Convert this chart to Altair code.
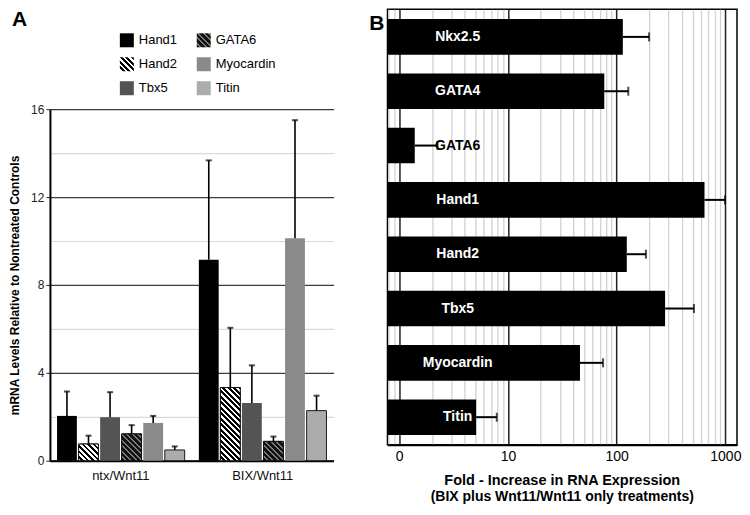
import altair as alt
import pandas as pd

# ---------------- data: panel A ----------------
GROUPS = ["ntx/Wnt11", "BIX/Wnt11"]
GENES_A = ["Hand1", "Hand2", "Tbx5", "GATA6", "Myocardin", "Titin"]
NTX_MEAN = [2.04, 0.76, 1.98, 1.22, 1.72, 0.49]
NTX_ERR = [3.15, 1.14, 3.12, 1.62, 2.04, 0.65]
BIX_MEAN = [9.15, 3.33, 2.63, 0.88, 10.13, 2.28]
BIX_ERR = [13.67, 6.05, 4.34, 1.10, 15.5, 2.96]
A_DOMAIN = [0, 16]
A_TICKS = list(range(0, 17))

# ---------------- data: panel B ----------------
GENES_B = ["Nkx2.5", "GATA4", "GATA6", "Hand1", "Hand2", "Tbx5", "Myocardin", "Titin"]
FOLD = [114, 77, 1.39, 643, 124, 279, 46, 5.1]
FOLD_ERR = [199, 128, 2.25, 993, 186, 514, 75, 7.9]
B_MAJOR = [1, 10, 100, 1000]
B_MAJOR_LABELS = ["0", "10", "100", "1000"]
B_TICKS = [0.8, 0.9] + [m * 10 ** e for e in range(0, 3) for m in range(1, 10)] + [1000]
B_DOMAIN = [0.78, 1280]
LABEL_POS = 3.45

# ---------------- layout / style ----------------
FONT = "Liberation Sans"
A_W, A_H, A_TOP = 284, 452, 100          # plot of panel A occupies [A_TOP, A_H]
B_W, B_H = 350, 436
X_PAD_IN, X_PAD_OUT, OFF_PAD = 0.1, 0.05, 0.08

_step = A_W / (len(GROUPS) - X_PAD_IN + 2 * X_PAD_OUT)
_band = _step * (1 - X_PAD_IN)
BAR_W = _band / (len(GENES_A) - OFF_PAD) * (1 - OFF_PAD)
PX_PER_UNIT = (A_H - A_TOP) / (A_DOMAIN[1] - A_DOMAIN[0])

HATCH = {
    "Hand2": ("#ffffff", "#000000", 0.5),
    "GATA6": ("#111111", "#7a7a7a", 0.62),
}
PERIOD = 5.5


def stripes(w, h, c1, c2, frac, period=PERIOD):
    total = w + h
    k = total / (w * w + h * h)
    stops = []
    i = 0
    while i * period < total:
        a = i * period / total
        b = min((i + frac) * period / total, 1)
        c = min((i + 1) * period / total, 1)
        stops += [
            {"offset": round(a, 4), "color": c1},
            {"offset": round(b, 4), "color": c1},
            {"offset": round(b, 4), "color": c2},
            {"offset": round(c, 4), "color": c2},
        ]
        i += 1
    return {"gradient": "linear", "x1": 0, "y1": 1,
            "x2": round(k * w, 5), "y2": round(1 - k * h, 5), "stops": stops}


def js(v):
    if isinstance(v, dict):
        return "{" + ",".join(f"{k}:{js(x)}" for k, x in v.items()) + "}"
    if isinstance(v, list):
        return "[" + ",".join(js(x) for x in v) + "]"
    if isinstance(v, str):
        return "'" + v + "'"
    return repr(v)


SOLID = {"Hand1": "#000000", "Tbx5": "#545454", "Myocardin": "#8a8a8a", "Titin": "#acacac"}
LEG_ORDER = GENES_A
LEG_RANGE = []
for g in LEG_ORDER:
    if g in HATCH:
        LEG_RANGE.append({"expr": js(stripes(14, 14, *HATCH[g]))})
    else:
        LEG_RANGE.append(SOLID[g])

rows = []
for grp, means, errs in [(GROUPS[0], NTX_MEAN, NTX_ERR), (GROUPS[1], BIX_MEAN, BIX_ERR)]:
    for gene, m, e in zip(GENES_A, means, errs):
        rows.append({"group": grp, "gene": gene, "mean": m, "err": e})
dfA = pd.DataFrame(rows)

dfB = pd.DataFrame({"gene": GENES_B, "fold": FOLD, "err": FOLD_ERR})

# ---------------- panel A ----------------
xA = alt.X("group:N", sort=GROUPS,
           scale=alt.Scale(domain=GROUPS, paddingInner=X_PAD_IN, paddingOuter=X_PAD_OUT),
           axis=alt.Axis(title=None, labelAngle=0, ticks=False, domainColor="black",
                         domainWidth=2, labelFontSize=13, labelPadding=9,
                         labelColor="#111111", grid=False))
xoA = alt.XOffset("gene:N", sort=GENES_A,
                  scale=alt.Scale(domain=GENES_A, paddingInner=OFF_PAD, paddingOuter=0))
yA = alt.Y("mean:Q", scale=alt.Scale(domain=A_DOMAIN, nice=False, range=[A_H, A_TOP]),
           axis=alt.Axis(values=A_TICKS,
                         title="mRNA Levels Relative to Nontreated Controls",
                         titleFontSize=12, titleFontWeight="bold", titleColor="black",
                         titlePadding=9,
                         labelExpr="datum.value % 4 == 0 ? datum.label : ''",
                         labelOverlap=False, labelFontSize=12, labelColor="#222222",
                         labelPadding=2, tickSize=4,
                         tickColor={"condition": {"test": "datum.value % 4 == 0", "value": "#222222"},
                                    "value": "transparent"},
                         gridColor={"condition": {"test": "datum.value % 4 == 0", "value": "#3c3c3c"},
                                    "value": "#d9d9d9"},
                         gridWidth={"condition": {"test": "datum.value % 4 == 0", "value": 1.3},
                                    "value": 1.2},
                         domainColor="black", domainWidth=2))

baseA = alt.Chart(dfA)
barsA = baseA.mark_bar(stroke="#1a1a1a").encode(
    x=xA, xOffset=xoA, y=yA,
    color=alt.Color("gene:N", scale=alt.Scale(domain=LEG_ORDER, range=LEG_RANGE),
                    legend=alt.Legend(orient="none", legendX=70, legendY=24, columns=2,
                                      title=None, symbolType="square", symbolSize=196,
                                      symbolStrokeWidth=0, labelFontSize=13,
                                      labelColor="black", labelOffset=5,
                                      columnPadding=19, rowPadding=10, padding=0)),
    strokeWidth=alt.condition(
        "datum.gene == 'Hand2' || datum.gene == 'GATA6' || datum.gene == 'Titin'",
        alt.value(1), alt.value(0)),
)

overlays = []
for grp, means in [(GROUPS[0], NTX_MEAN), (GROUPS[1], BIX_MEAN)]:
    for gene in HATCH:
        val = means[GENES_A.index(gene)]
        grad = stripes(BAR_W, val * PX_PER_UNIT, *HATCH[gene])
        overlays.append(
            baseA.transform_filter(f"datum.group == '{grp}' && datum.gene == '{gene}'")
            .mark_bar(fill=grad, stroke="#111111", strokeWidth=1)
            .encode(x=xA, xOffset=xoA, y="mean:Q")
        )

errA = baseA.mark_rule(color="black", strokeWidth=1.6).encode(
    x=xA, xOffset=xoA, y="mean:Q", y2="err:Q")
capA = baseA.mark_tick(color="black", thickness=2, size=6, orient="horizontal").encode(
    x=xA, xOffset=xoA, y="err:Q")
letterA = alt.Chart(pd.DataFrame({"t": ["A"]})).mark_text(
    fontSize=21, fontWeight="bold", align="left", baseline="top", color="black").encode(
    text="t:N", x=alt.value(-38), y=alt.value(0))

panelA = alt.layer(barsA, *overlays, errA, capA, letterA).properties(width=A_W, height=A_H)

# ---------------- panel B ----------------
major_test = " || ".join(f"datum.value == {v}" for v in B_MAJOR)
label_expr = " : ".join(f"datum.value == {v} ? '{t}'" for v, t in zip(B_MAJOR, B_MAJOR_LABELS)) + " : ''"

xB = alt.X("fold:Q", scale=alt.Scale(type="log", domain=B_DOMAIN, nice=False),
           axis=alt.Axis(values=B_TICKS, labelExpr=label_expr, labelOverlap=False,
                         labelFlush=False, ticks=False, title=None,
                         gridColor={"condition": {"test": major_test, "value": "#222222"},
                                    "value": "#d2d2d2"},
                         gridWidth={"condition": {"test": major_test, "value": 1.5},
                                    "value": 1.3},
                         domainColor="black", domainWidth=2, labelFontSize=14,
                         labelPadding=5, labelColor="black"))
yB = alt.Y("gene:N", sort=GENES_B,
           scale=alt.Scale(domain=GENES_B, paddingInner=0.345, paddingOuter=0.18),
           axis=None)

baseB = alt.Chart(dfB)
barsB = baseB.transform_calculate(base=str(B_DOMAIN[0])).mark_bar(color="black").encode(
    y=yB, x=xB, x2="base:Q")
errB = baseB.mark_rule(color="black", strokeWidth=2).encode(y=yB, x="fold:Q", x2="err:Q")
capB = baseB.mark_tick(color="black", thickness=2, size=9, orient="vertical").encode(
    y=yB, x="err:Q")
textB = baseB.mark_text(fontWeight="bold", fontSize=14).encode(
    y=yB, x=alt.datum(LABEL_POS), text="gene:N",
    color=alt.condition(f"datum.fold > {LABEL_POS}", alt.value("white"), alt.value("black")))
letterB = alt.Chart(pd.DataFrame({"t": ["B"]})).mark_text(
    fontSize=21, fontWeight="bold", align="right", baseline="top", color="black").encode(
    text="t:N", x=alt.value(-3), y=alt.value(4))

panelB = alt.layer(barsB, errB, capB, textB, letterB).properties(
    width=B_W, height=B_H,
    view=alt.ViewBackground(stroke="black", strokeWidth=1.5),
    title=alt.TitleParams("Fold - Increase in RNA Expression",
                          subtitle="(BIX plus Wnt11/Wnt11 only treatments)",
                          orient="bottom", anchor="middle", frame="group",
                          fontSize=14.5, fontWeight="bold", color="black",
                          subtitleFontSize=14, subtitleFontWeight="bold",
                          subtitleColor="black", subtitleFont=FONT,
                          subtitlePadding=2, offset=10))

chart = alt.hconcat(panelA, panelB, spacing=35).properties(padding=0).configure(
    font=FONT).configure_view(stroke=None)

chart.save("out.html", embed_options={"renderer": "svg", "actions": False})
